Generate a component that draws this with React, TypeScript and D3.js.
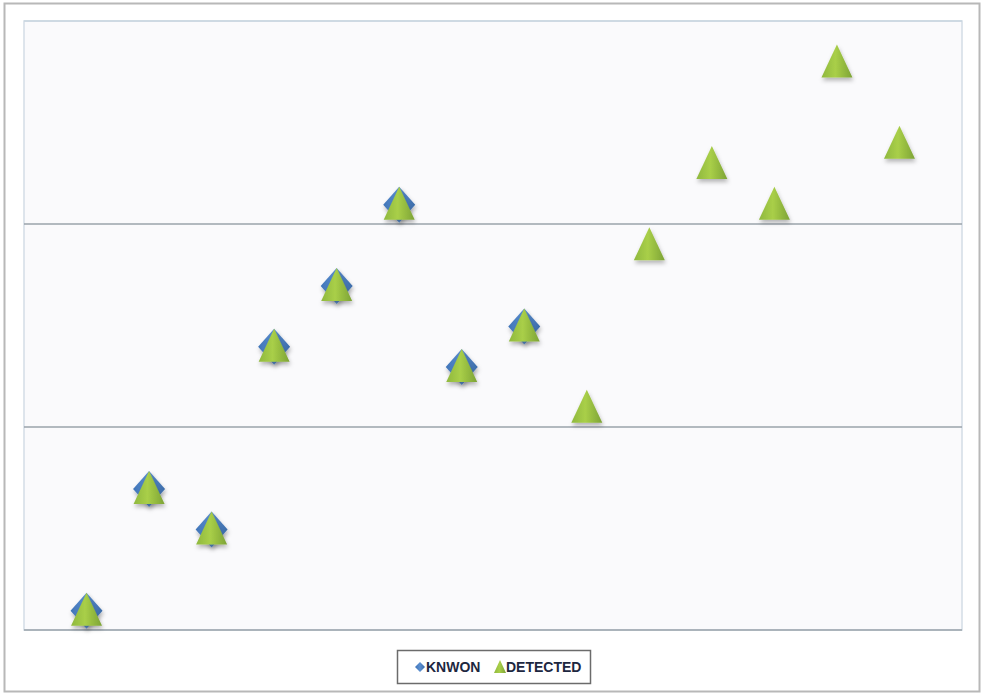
import React from "react";
import * as d3 from "d3";

// Sample index along the horizontal axis
const sampleIndex = [1, 2, 3, 4, 5, 6, 7, 8, 9, 10, 11, 12, 13, 14];
// Known reference values (available for the first eight samples)
const knownValues = [0.1, 0.7, 0.5, 1.4, 1.7, 2.1, 1.3, 1.5];
// Detected values for every sample
const detectedValues = [0.1, 0.7, 0.5, 1.4, 1.7, 2.1, 1.3, 1.5, 1.1, 1.9, 2.3, 2.1, 2.8, 2.4];
const gridTicks = [0, 1, 2, 3];
const seriesNames = ["KNWON", "DETECTED"];

const W = 984;
const H = 695;
const plot = { left: 24, right: 962, top: 21, bottom: 630 };

export default function App() {
  const x = d3.scaleLinear().domain([0, 15]).range([plot.left, plot.right]);
  const y = d3.scaleLinear().domain([0, 3]).range([plot.bottom, plot.top]);

  const diamond = (cx: number, cy: number, hw: number, hh: number) =>
    `M${cx},${cy - hh}L${cx + hw},${cy}L${cx},${cy + hh}L${cx - hw},${cy}Z`;
  const triangle = (cx: number, cy: number, hw: number, up: number, down: number) =>
    `M${cx},${cy - up}L${cx + hw},${cy + down}L${cx - hw},${cy + down}Z`;

  return (
    <svg
      width={W}
      height={H}
      style={{ position: "absolute", left: 0, top: 0, display: "block" }}
      fontFamily="'Liberation Sans', Arial, sans-serif"
    >
      <defs>
        <linearGradient id="triFill" x1="0" y1="0" x2="1" y2="0">
          <stop offset="0" stopColor="#8fb83f" />
          <stop offset="0.45" stopColor="#a9cf48" />
          <stop offset="1" stopColor="#7da336" />
        </linearGradient>
        <linearGradient id="diaFill" x1="0" y1="0" x2="1" y2="0">
          <stop offset="0" stopColor="#3f74b8" />
          <stop offset="0.5" stopColor="#5b8fd0" />
          <stop offset="1" stopColor="#3a6aa8" />
        </linearGradient>
        <filter id="shadow" x="-40%" y="-40%" width="180%" height="190%">
          <feDropShadow dx="1" dy="3" stdDeviation="2" floodColor="#000" floodOpacity="0.28" />
        </filter>
      </defs>

      <rect x={0} y={0} width={W} height={H} fill="#ffffff" />
      <rect x={4.5} y={3.5} width={975} height={688} fill="#ffffff" stroke="#b8b8b8" strokeWidth={2} />

      {/* plot area */}
      <rect
        x={plot.left}
        y={plot.top}
        width={plot.right - plot.left}
        height={plot.bottom - plot.top}
        fill="#fafafc"
        stroke="#d3dde6"
        strokeWidth={1.5}
      />
      {gridTicks.map((t) => (
        <line
          key={t}
          x1={plot.left}
          x2={plot.right}
          y1={y(t)}
          y2={y(t)}
          stroke={t === 3 ? "#c9d6e0" : "#9aa3ab"}
          strokeWidth={1.5}
        />
      ))}

      {/* known series */}
      {knownValues.map((v, i) => (
        <path
          key={"k" + i}
          d={diamond(x(sampleIndex[i]), y(v) + 1, 16, 18)}
          fill="url(#diaFill)"
          filter="url(#shadow)"
        />
      ))}
      {/* detected series */}
      {detectedValues.map((v, i) => (
        <path
          key={"d" + i}
          d={triangle(x(sampleIndex[i]), y(v), 15.5, 17, 16)}
          fill="url(#triFill)"
          filter="url(#shadow)"
        />
      ))}

      {/* legend */}
      <g>
        <rect x={397.5} y={650.5} width={193} height={33} fill="#ffffff" stroke="#6b6b6b" strokeWidth={1.5} />
        <path d={diamond(420, 667, 5, 5)} fill="url(#diaFill)" />
        <text x={426} y={672} fontSize={14} fontWeight="bold" fill="#1d2740">
          {seriesNames[0]}
        </text>
        <path d={triangle(500, 667, 6, 7, 6)} fill="url(#triFill)" />
        <text x={506} y={672} fontSize={14} fontWeight="bold" fill="#1d2740">
          {seriesNames[1]}
        </text>
      </g>
    </svg>
  );
}
